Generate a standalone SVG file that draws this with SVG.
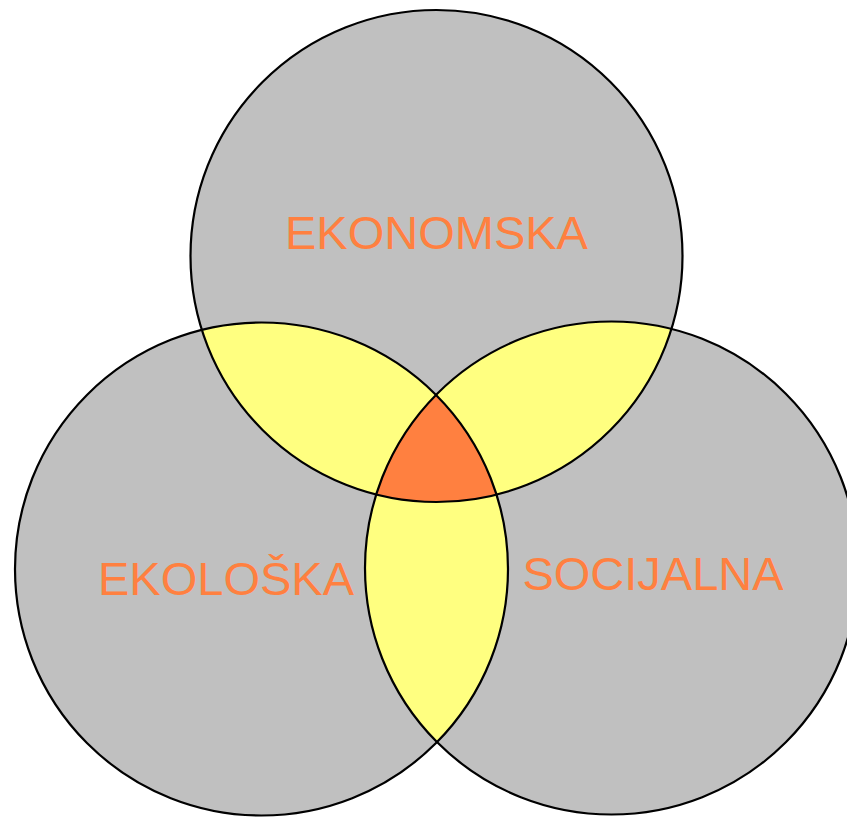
<svg xmlns="http://www.w3.org/2000/svg" width="847" height="817" viewBox="0 0 847 817">
  <style>
    .fill { fill: #C0C0C0; stroke: none; }
    .pair { fill: #FFFF80; stroke: none; }
    .triple { fill: #FF8040; stroke: none; }
    .outline { fill: none; stroke: #000; stroke-width: 2.2; }
    .label { font-family: "Liberation Sans", Arial, sans-serif; font-size: 47px; fill: #FF8040; text-anchor: middle; }
  </style>
  <defs>
    <clipPath id="clipTop"><circle cx="436.5" cy="256" r="246"/></clipPath>
    <clipPath id="clipLeft"><circle cx="261.5" cy="569" r="246.5"/></clipPath>
    <clipPath id="clipRight"><circle cx="611.5" cy="568" r="246.5"/></clipPath>
  </defs>
  <rect width="847" height="817" fill="#FFFFFF"/>
  <g id="fills">
    <circle class="fill" cx="436.5" cy="256" r="246"/>
    <circle class="fill" cx="261.5" cy="569" r="246.5"/>
    <circle class="fill" cx="611.5" cy="568" r="246.5"/>
    <g clip-path="url(#clipTop)">
      <circle class="pair" cx="261.5" cy="569" r="246.5"/>
      <circle class="pair" cx="611.5" cy="568" r="246.5"/>
    </g>
    <g clip-path="url(#clipLeft)">
      <circle class="pair" cx="611.5" cy="568" r="246.5"/>
    </g>
    <g clip-path="url(#clipTop)">
      <g clip-path="url(#clipLeft)">
        <circle class="triple" cx="611.5" cy="568" r="246.5"/>
      </g>
    </g>
  </g>
  <g id="node-ekonomska">
    <circle class="outline" cx="436.5" cy="256" r="246"/>
    <text class="label" x="436.5" y="249">EKONOMSKA</text>
  </g>
  <g id="node-ekoloska">
    <circle class="outline" cx="261.5" cy="569" r="246.5"/>
    <text class="label" x="226" y="595">EKOLOŠKA</text>
  </g>
  <g id="node-socijalna">
    <circle class="outline" cx="611.5" cy="568" r="246.5"/>
    <text class="label" x="653" y="590">SOCIJALNA</text>
  </g>
  <g id="connectors"/>
</svg>
